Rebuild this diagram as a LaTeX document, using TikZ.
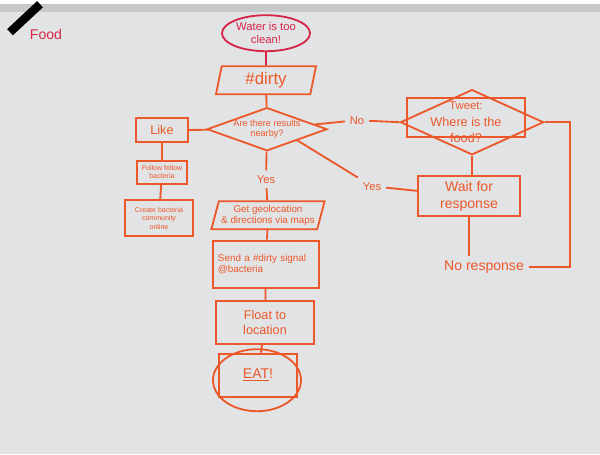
\documentclass[tikz,border=0pt]{standalone}
\usepackage{fontspec}
\setmainfont{Liberation Sans}
\usetikzlibrary{shapes.geometric, calc}
\definecolor{marker}{RGB}{236,88,42}
\definecolor{pinkmarker}{RGB}{214,38,72}
\definecolor{paper}{RGB}{226,227,229}

\begin{document}
\begin{tikzpicture}[x=0.025cm, y=-0.025cm,
    every node/.style={text=marker, align=center},
    box/.style={draw=marker, line width=1.3pt},
    pen/.style={marker, line width=1.3pt},
    slant/.style={box, trapezium, trapezium left angle=70, trapezium right angle=110, trapezium stretches body, inner sep=0pt},
    choice/.style={box, diamond, inner sep=0pt}]
                    \fill[paper] (0,0) rectangle (600,450);
                    \fill[paper!88!black] (0,0) rectangle (600,8);
                    \draw[black, line width=6pt] (10,28) -- (40,0);
                    \useasboundingbox (0,0) rectangle (600,450);

                    \node[text=pinkmarker] (f) at (46,30) {Food};
                    \node[box, draw=pinkmarker, text=pinkmarker, ellipse, minimum width=2.2cm, minimum height=0.9cm, inner sep=0pt, font=\footnotesize] (a) at (266,29) {Water is too\\clean!};
                    \node[slant, minimum width=2.5cm, minimum height=0.7cm, font=\large] (b) at (266,76) {\#dirty};
                    \node[choice, minimum width=3cm, minimum height=1.08cm, label={[font=\fontsize{6.5}{7.5}\selectfont]center:Are there results\\nearby?}] (c) at (267,125) {};
                    \node[box, minimum width=1.28cm, minimum height=0.6cm, font=\small] (d) at (162,126) {Like};
                    \node[box, minimum width=1.2cm, minimum height=0.58cm, font=\tiny] (e) at (162,168) {Follow fellow\\bacteria};
                    \node[box, minimum width=1.7cm, minimum height=0.9cm, font=\tiny] (g) at (159,214) {Create bacteria\\community\\online};
                    \node[font=\footnotesize] (h) at (357,116) {No};
                    \node[box, minimum width=2.95cm, minimum height=0.98cm] (i) at (466,113) {};
                    \node[choice, minimum width=3.58cm, minimum height=1.63cm] (j) at (472,118) {};
                    \node (k) at (466,118) {{\footnotesize Tweet:}\\{\small Where is the}\\{\small food?}};
                    \node[box, minimum width=2.55cm, minimum height=1cm] (l) at (469,192) {Wait for\\response};
                    \node[font=\footnotesize] (m) at (372,182) {Yes};
                    \node (n) at (484,263) {No response};
                    \coordinate (o) at (570,263);
                    \node[font=\footnotesize] (p) at (266,175) {Yes};
                    \node[slant, minimum width=2.83cm, minimum height=0.7cm, font=\scriptsize] (q) at (268,211) {Get geolocation\\\& directions via maps};
                    \node[box, minimum width=2.6cm, minimum height=1.18cm, font=\scriptsize, align=left, text width=2.4cm] (r) at (266,260) {Send a \#dirty signal\\@bacteria};
                    \node[box, minimum width=2.43cm, minimum height=1.08cm, font=\small] (s) at (265,318) {Float to\\location};
                    \node[box, minimum width=1.95cm, minimum height=1.08cm] (t) at (258,371) {\underline{EAT}!};
                    \node[box, ellipse, minimum width=2.2cm, minimum height=1.55cm] (u) at (257,376) {};

                    \draw[pen, pinkmarker] (a) -- (b);
                    \draw[pen] (b) -- (c);
                    \draw[pen] (c) -- (d);
                    \draw[pen] (d) -- (e);
                    \draw[pen] (e) -- (g);
                    \draw[pen] (c) -- (h);
                    \draw[pen] (h) -- (j.west);
                    \draw[pen] (c.south east) -- (m);
                    \draw[pen] (m) -- (l);
                    \draw[pen] (j.south) -- (j.south |- l.north);
                    \draw[pen] (l.south) -- (l.south |- n.north);
                    \draw[pen] (n) -- (o) |- (j.east);
                    \draw[pen] (c) -- (p);
                    \draw[pen] (p) -- (q);
                    \draw[pen] (q) -- (r);
                    \draw[pen] (r) -- (s);
                    \draw[pen] (s) -- (t);
                \end{tikzpicture}
\end{document}
